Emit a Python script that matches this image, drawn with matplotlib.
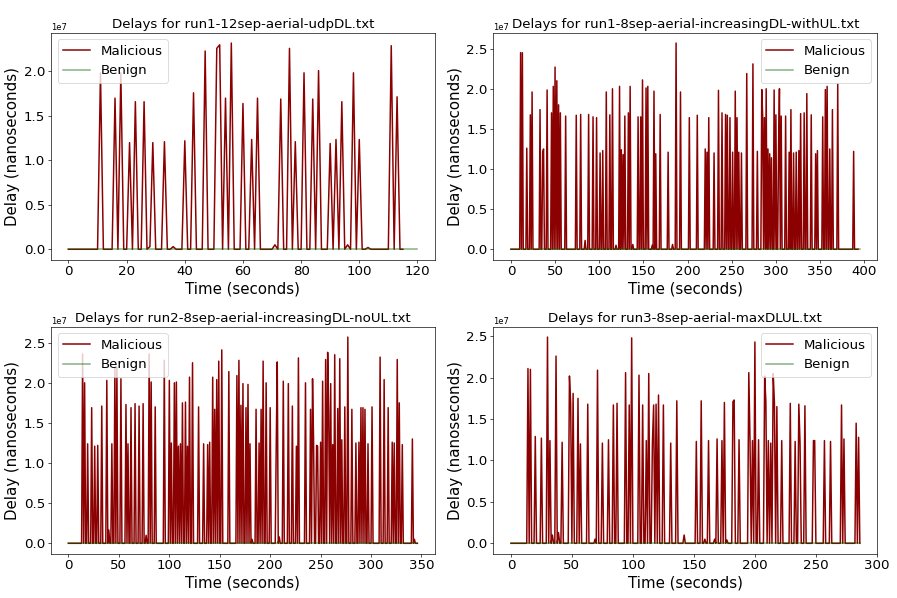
import numpy as np
import matplotlib
matplotlib.use("Agg")
import matplotlib.pyplot as plt

# ---------------- data ----------------
titles = [
    "Delays for run1-12sep-aerial-udpDL.txt",
    "Delays for run1-8sep-aerial-increasingDL-withUL.txt",
    "Delays for run2-8sep-aerial-increasingDL-noUL.txt",
    "Delays for run3-8sep-aerial-maxDLUL.txt",
]

# run duration (seconds) of malicious / benign traces
mal_end = [115, 393, 346, 286]
ben_end = [120, 395, 346, 286]

# spike times (s) and delays (x1e7 ns) of malicious traffic
p1_t = [11, 16, 18, 21, 23, 26, 28, 29, 33, 36, 40, 43, 47, 51, 52, 54, 56, 60, 63, 65,
        71, 73, 76, 78, 81, 84, 86, 90, 92, 94, 96, 98, 100, 103, 111, 113]
p1_v = [1.985, 1.70, 1.985, 1.20, 1.66, 1.66, 0.03, 1.20, 1.21, 0.03, 1.22, 1.76, 2.23, 2.26, 2.30,
        1.70, 2.32, 1.64, 1.235, 1.70, 0.05, 1.69, 2.26, 1.21, 1.985, 1.69, 2.01, 1.19, 1.235, 1.66,
        0.05, 1.985, 1.235, 0.02, 2.29, 1.715]

p2_t = [11, 13, 18, 22, 24, 33, 36, 37, 41, 46, 48, 50, 52, 54, 56, 62, 74, 79, 84, 88, 93, 97,
        101, 104, 108, 112, 115, 119, 123, 125, 127, 129, 133, 135, 138, 144, 147, 149, 153, 155,
        160, 162, 164, 169, 178, 183, 187, 192, 202, 211, 220, 222, 224, 230, 235, 239, 243, 245,
        248, 251, 254, 256, 258, 261, 267, 274, 279, 284, 285, 287, 289, 291, 293, 295, 298, 300,
        303, 304, 306, 311, 315, 317, 320, 323, 326, 328, 332, 335, 340, 345, 347, 353, 356, 358,
        361, 364, 370, 388]
p2_v = [2.45, 2.45, 1.26, 1.675, 1.96, 1.74, 1.21, 1.25, 1.985, 1.70, 2.03, 2.27, 2.10, 1.80, 1.70,
        1.66, 1.67, 1.68, 0.11, 1.68, 1.65, 1.64, 1.20, 1.23, 1.96, 1.675, 2.00, 0.05, 2.03, 1.24,
        1.18, 1.66, 1.70, 2.03, 0.06, 1.65, 1.65, 2.11, 2.01, 2.03, 0.05, 1.97, 1.19, 1.68, 1.21,
        0.06, 2.57, 1.96, 1.64, 1.67, 1.25, 1.21, 1.64, 1.20, 1.98, 1.70, 1.68, 1.67, 1.64, 1.21,
        1.97, 1.64, 1.21, 1.20, 2.19, 2.31, 1.22, 1.99, 1.66, 1.64, 2.00, 1.25, 1.19, 1.14, 1.985,
        1.675, 1.25, 2.00, 1.66, 1.66, 1.21, 1.74, 1.20, 1.21, 1.23, 1.69, 1.70, 1.94, 1.675, 1.19,
        1.23, 1.65, 1.99, 2.03, 1.25, 1.74, 2.06, 1.22]

p3_t = [14, 16, 19, 23, 26, 29, 33, 38, 40, 43, 46, 48, 52, 57, 59, 62, 66, 70, 74, 77, 80, 82,
        86, 95, 100, 102, 105, 107, 109, 111, 113, 116, 118, 120, 123, 129, 134, 138, 140, 143,
        145, 147, 149, 152, 159, 167, 169, 171, 173, 176, 178, 180, 182, 186, 189, 191, 193, 196,
        200, 206, 207, 209, 213, 218, 222, 226, 228, 235, 240, 242, 243, 246, 247, 250, 252, 255,
        257, 258, 260, 262, 264, 267, 269, 271, 274, 277, 281, 285, 288, 290, 292, 294, 297, 301,
        309, 313, 317, 321, 323, 326, 328, 331, 341, 343]
p3_v = [2.36, 2.00, 1.24, 1.69, 1.21, 1.22, 1.71, 2.03, 0.165, 1.24, 2.18, 2.19, 2.05, 1.73, 1.24,
        1.69, 1.74, 1.71, 1.74, 0.10, 2.36, 2.01, 1.70, 2.28, 2.03, 1.25, 2.00, 2.01, 1.21, 1.24,
        1.75, 1.76, 1.21, 2.07, 2.25, 1.70, 1.24, 1.23, 1.26, 2.07, 1.67, 2.04, 2.27, 2.41, 2.14,
        2.09, 2.28, 1.72, 1.99, 1.69, 1.98, 1.24, 0.05, 1.67, 1.25, 1.67, 2.27, 2.00, 1.69, 1.22,
        2.26, 0.08, 2.02, 1.99, 1.71, 1.21, 2.31, 2.00, 1.67, 2.05, 1.30, 1.22, 1.21, 1.26, 2.02,
        2.29, 2.38, 1.66, 1.99, 1.23, 2.35, 1.68, 2.30, 1.29, 1.70, 2.57, 1.67, 1.25, 1.26, 1.69,
        1.69, 1.67, 1.24, 1.70, 2.32, 2.04, 1.69, 1.26, 1.25, 2.29, 1.75, 1.23, 1.30, 0.05]

p4_t = [14, 16, 20, 25, 30, 32, 34, 37, 39, 42, 48, 49, 51, 55, 57, 63, 69, 71, 75, 80, 84, 87,
        94, 97, 99, 105, 108, 111, 113, 116, 117, 119, 121, 125, 131, 136, 142, 152, 156, 159,
        162, 167, 169, 173, 175, 177, 182, 183, 187, 195, 196, 198, 200, 203, 208, 209, 211, 213,
        215, 216, 218, 222, 229, 233, 236, 237, 241, 248, 249, 257, 262, 271, 273, 283, 285]
p4_v = [2.11, 2.10, 1.29, 1.27, 2.49, 1.24, 0.10, 2.26, 0.13, 1.22, 2.02, 1.69, 1.81, 1.75, 1.20,
        1.68, 0.05, 2.09, 1.21, 1.25, 1.67, 1.69, 2.06, 1.67, 2.48, 2.03, 1.67, 1.24, 2.05, 1.21,
        1.67, 1.68, 1.79, 1.67, 1.21, 1.72, 0.10, 1.23, 1.72, 0.05, 1.24, 0.05, 1.26, 1.24, 1.70,
        0.04, 1.71, 1.73, 1.25, 2.06, 1.24, 1.24, 2.43, 1.25, 2.02, 1.71, 1.24, 1.21, 2.05, 1.70,
        1.65, 1.24, 1.69, 1.23, 1.68, 1.21, 1.66, 1.24, 1.24, 1.24, 1.23, 1.67, 1.26, 1.45, 1.28]

spike_times = [p1_t, p2_t, p3_t, p4_t]
spike_vals = [p1_v, p2_v, p3_v, p4_v]
legend_loc = ["upper left", "upper right", "upper left", "upper right"]

# benign delays are flat at zero over the whole run
benign_delay = 0.0

# ---------------- plotting ----------------
DPI = 60
fig, axes = plt.subplots(2, 2, figsize=(897 / DPI, 598 / DPI), dpi=DPI)
fig.subplots_adjust(left=0.0569, right=0.978, top=0.9453, bottom=0.0742,
                    wspace=0.1526, hspace=0.296)

for i, ax in enumerate(axes.flat):
    t = np.arange(0, mal_end[i] + 1)
    d = np.zeros(len(t))
    d[np.array(spike_times[i])] = np.array(spike_vals[i]) * 1e7
    ax.plot(t, d, color="darkred", lw=1.8, label="Malicious")
    ax.plot([0, ben_end[i]], [benign_delay, benign_delay], color="darkgreen",
            alpha=0.5, lw=1.8, label="Benign")
    ax.set_title(titles[i], fontsize=16)
    ax.set_xlabel("Time (seconds)", fontsize=18)
    ax.set_ylabel("Delay (nanoseconds)", fontsize=18)
    ax.tick_params(labelsize=16)
    ax.yaxis.get_offset_text().set_fontsize(10)
    ax.legend(loc=legend_loc[i], fontsize=16)

fig.savefig("out.png", dpi=DPI)
